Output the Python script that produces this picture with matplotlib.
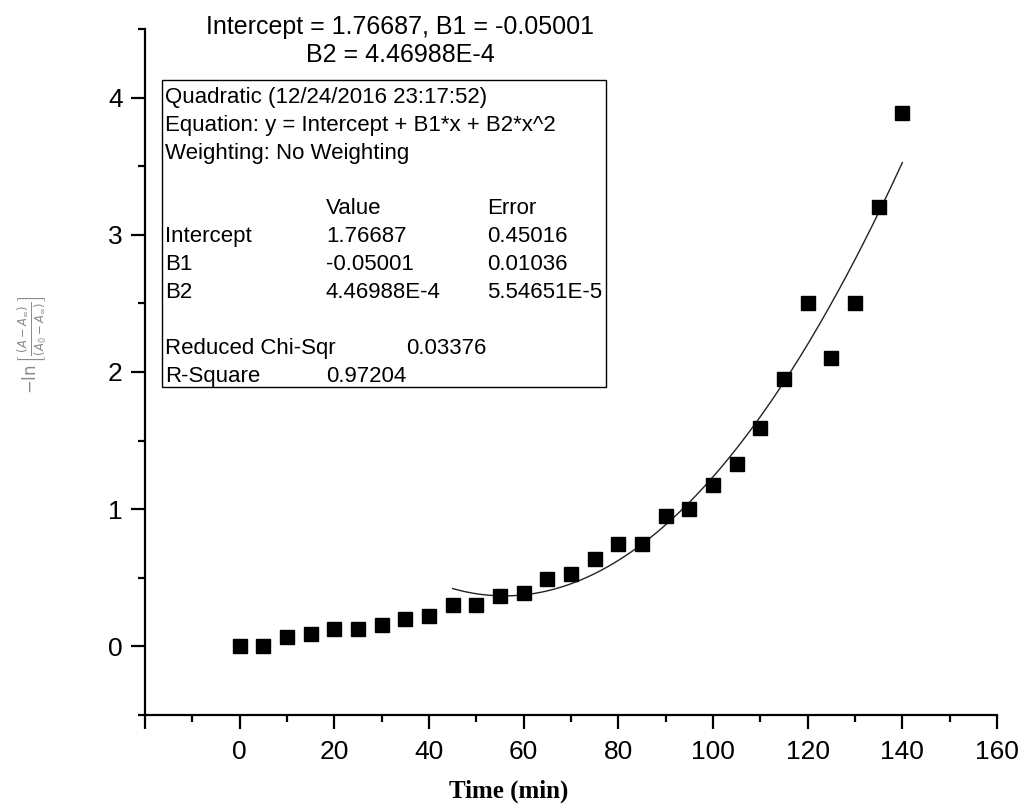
import matplotlib
matplotlib.use('Agg')
import matplotlib.pyplot as plt
import numpy as np
from matplotlib.patches import Rectangle
from matplotlib.ticker import MultipleLocator, FixedLocator

plt.rcParams['font.family'] = ['Liberation Sans', 'DejaVu Sans']

# measured data
time_min = [0, 5, 10, 15, 20, 25, 30, 35, 40, 45, 50, 55, 60, 65, 70,
            75, 80, 85, 90, 95, 100, 105, 110, 115, 120, 125, 130, 135, 140]
neg_ln = [0.0, 0.0, 0.065, 0.09, 0.13, 0.13, 0.155, 0.2, 0.225, 0.305, 0.305,
          0.365, 0.39, 0.49, 0.525, 0.635, 0.75, 0.75, 0.95, 1.0, 1.18, 1.33,
          1.59, 1.95, 2.50, 2.10, 2.50, 3.20, 3.89]

# quadratic fit reported in the chart
intercept = 1.76687
b1 = -0.05001
b2 = 4.46988e-4
fit_range = (45, 140)

W, H = 1026, 806
fig = plt.figure(figsize=(W / 100, H / 100), dpi=100, facecolor='white')


def fx(px):
    return px / W


def fy(py):
    return 1 - py / H


ax = fig.add_axes([fx(145), fy(715), fx(997) - fx(145), fy(29) - fy(715)])

ax.plot(time_min, neg_ln, 's', color='black', markersize=10, zorder=3)
xf = np.linspace(fit_range[0], fit_range[1], 200)
ax.plot(xf, intercept + b1 * xf + b2 * xf ** 2, color='#222222', lw=1.0)

ax.set_xlim(-20, 160)
ax.set_ylim(-0.5, 4.5)
for s in ['top', 'right']:
    ax.spines[s].set_visible(False)
for s in ['left', 'bottom']:
    ax.spines[s].set_linewidth(1.6)

ax.xaxis.set_major_locator(FixedLocator(np.arange(-20, 161, 20)))
ax.xaxis.set_minor_locator(MultipleLocator(10))
ax.set_xticklabels([''] + [str(v) for v in range(0, 161, 20)])
ax.yaxis.set_major_locator(MultipleLocator(1))
ax.yaxis.set_minor_locator(MultipleLocator(0.5))
ax.tick_params(which='major', length=10, width=1.6, labelsize=19, direction='out')
ax.tick_params(which='minor', length=5, width=1.6, direction='out')
ax.tick_params(axis='x', which='major', pad=8)
ax.tick_params(axis='y', which='major', pad=6)

fig.text(fx(509), fy(791), 'Time (min)', family='Liberation Serif',
         weight='bold', fontsize=18, ha='center', va='center')
fig.text(fx(32), fy(345),
         r'$-\ln\left[\frac{(A-A_\infty)}{(A_0-A_\infty)}\right]$',
         rotation=90, fontsize=12, color='#8a8a8a', ha='center', va='center')

fig.text(fx(400), fy(41), 'Intercept = 1.76687, B1 = -0.05001\nB2 = 4.46988E-4',
         fontsize=18, ha='center', va='center', multialignment='center',
         linespacing=1.2)

# fit report box
fig.patches.append(Rectangle((fx(162), fy(387)), fx(606) - fx(162), fy(80) - fy(387),
                             transform=fig.transFigure, fill=False,
                             edgecolor='black', lw=1.0))
rows = [
    (95, [(165, 'Quadratic (12/24/2016 23:17:52)')]),
    (123, [(165, 'Equation: y = Intercept + B1*x + B2*x^2')]),
    (151, [(165, 'Weighting: No Weighting')]),
    (206, [(326, 'Value'), (487, 'Error')]),
    (234, [(165, 'Intercept'), (326, '1.76687'), (487, '0.45016')]),
    (262, [(165, 'B1'), (326, '-0.05001'), (487, '0.01036')]),
    (290, [(165, 'B2'), (326, '4.46988E-4'), (487, '5.54651E-5')]),
    (346, [(165, 'Reduced Chi-Sqr'), (406, '0.03376')]),
    (374, [(165, 'R-Square'), (326, '0.97204')]),
]
for ypx, cells in rows:
    for xpx, txt in cells:
        fig.text(fx(xpx), fy(ypx + 8), txt, fontsize=16, ha='left', va='baseline')

fig.savefig('out.png', dpi=100, facecolor='white')
